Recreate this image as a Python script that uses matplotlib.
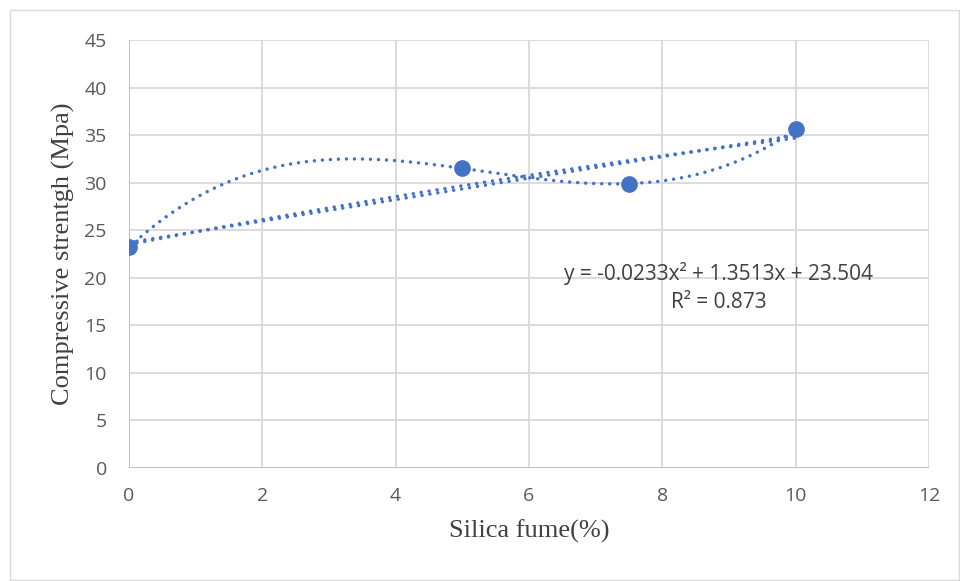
import numpy as np
import matplotlib
matplotlib.use("Agg")
import matplotlib.pyplot as plt
from matplotlib.patches import Rectangle

silica_fume = [0, 5, 7.5, 10]
strength = [23.2, 31.5, 29.9, 35.6]
x_ticks = [0, 2, 4, 6, 8, 10, 12]
y_ticks = [0, 5, 10, 15, 20, 25, 30, 35, 40, 45]
eq_text = "y = -0.0233x² + 1.3513x + 23.504"
r2_text = "R² = 0.873"

blue = "#4472C4"
grid_c = "#d9d9d9"
tick_c = "#595959"

fig = plt.figure(figsize=(9.6, 5.81), dpi=100)
fig.patches.append(Rectangle((10/960, 1/581), 949/960, 570/581, transform=fig.transFigure,
                             fill=False, edgecolor="#d9d9d9", linewidth=1))
ax = fig.add_axes([129/960, 1 - 468/581, 800/960, 428/581])

xs = np.array(silica_fume, dtype=float)
ys = np.array(strength, dtype=float)
xf = np.linspace(xs.min(), xs.max(), 300)
dot = (0, (0.01, 2.3))
for deg in (1, 2, 3):
    c = np.polyfit(xs, ys, deg)
    ax.plot(xf, np.polyval(c, xf), color=blue, linewidth=2.5, linestyle=dot,
            dash_capstyle="round", zorder=3)

ax.plot(silica_fume, strength, linestyle="none", marker="o", markersize=11,
        color=blue, zorder=4)

ax.set_xlim(0, 12)
ax.set_ylim(0, 45)
ax.set_xticks(x_ticks)
ax.set_yticks(y_ticks)
ax.grid(True, color=grid_c, linewidth=1.3)
ax.set_axisbelow(True)
for s in ax.spines.values():
    s.set_visible(False)
ax.axhline(0, color="#bfbfbf", linewidth=1.3, zorder=2)
ax.axvline(0, color="#bfbfbf", linewidth=1.3, zorder=2)
ax.tick_params(length=0, colors=tick_c, labelsize=14)
ax.tick_params(axis="x", pad=14)
ax.tick_params(axis="y", pad=16)
for lab in ax.get_xticklabels() + ax.get_yticklabels():
    lab.set_fontfamily("Open Sans")

ax.set_xlabel("Silica fume(%)", family="Liberation Serif", fontsize=19, color="#404040", labelpad=10)
ax.set_ylabel("Compressive strentgh (Mpa)", family="Liberation Serif", fontsize=19, color="#404040", labelpad=7)

ax.text(8.84, 20.5, eq_text, ha="center", va="center", family="Open Sans", fontsize=15, color="#404040")
ax.text(8.84, 17.4, r2_text, ha="center", va="center", family="Open Sans", fontsize=15, color="#404040")

fig.savefig("out.png", dpi=100)
